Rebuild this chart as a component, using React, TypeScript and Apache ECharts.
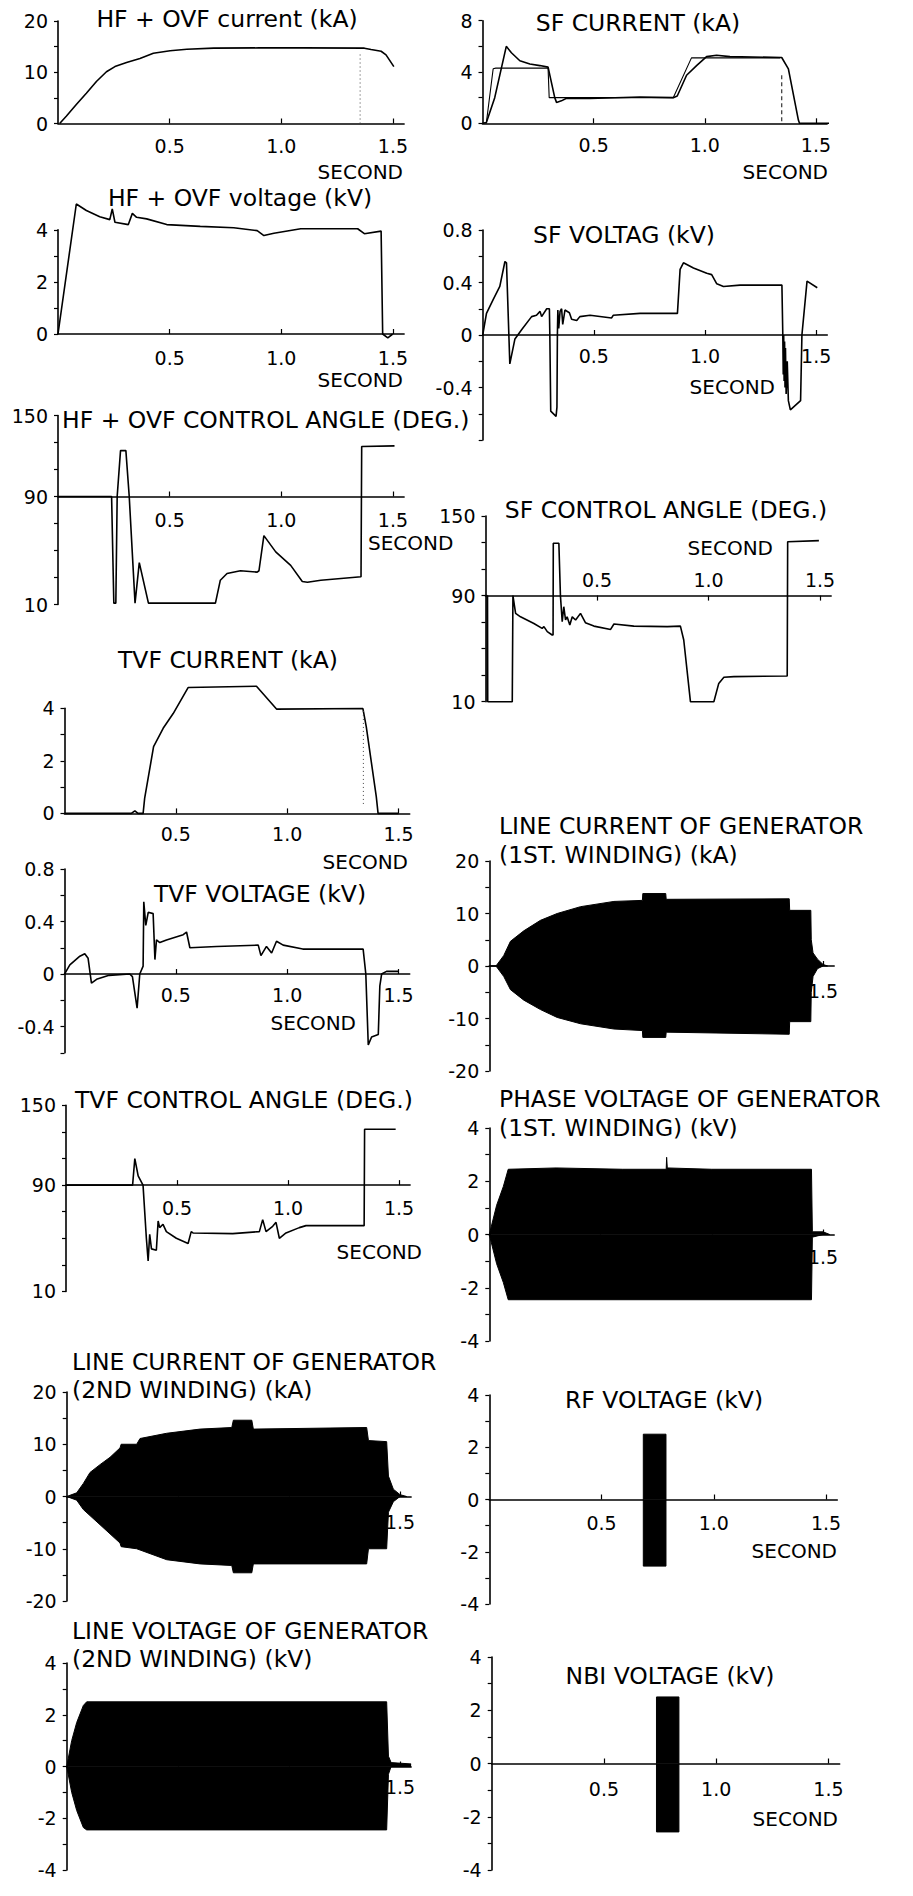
import React, { useEffect, useRef } from 'react';
import * as echarts from 'echarts';

const FONT = '"DejaVu Sans", "Liberation Sans", Arial, sans-serif';

// ---------- DATA (time in seconds, values in panel units) ----------
const HF_CUR = [[0.0075, 0], [0.037, 1.4], [0.082, 3.7], [0.127, 5.9], [0.172, 8.2], [0.217, 10.1], [0.255, 11.1], [0.307, 11.9], [0.367, 12.7], [0.427, 13.7], [0.502, 14.2], [0.577, 14.5], [0.697, 14.7], [0.9, 14.75], [1.1, 14.75], [1.372, 14.7], [1.402, 14.45], [1.447, 14.1], [1.469, 13.4], [1.504, 11.1]];
const HF_CUR_REF = [[1.353, 0], [1.353, 13.8]];

const HF_VOLT = [[0, 0], [0.082, 4.99], [0.127, 4.74], [0.187, 4.5], [0.232, 4.39], [0.243, 4.8], [0.255, 4.29], [0.315, 4.2], [0.333, 4.63], [0.352, 4.48], [0.397, 4.42], [0.487, 4.2], [0.637, 4.13], [0.787, 4.08], [0.892, 3.97], [0.922, 3.78], [0.967, 3.87], [1.087, 4.04], [1.342, 4.04], [1.372, 3.85], [1.447, 3.95], [1.454, 0], [1.477, -0.15], [1.499, 0]];

const HF_ANG = [[0, 90], [0.24, 90], [0.25, 11], [0.259, 11], [0.265, 90], [0.28, 124], [0.304, 124], [0.319, 90], [0.345, 11], [0.364, 41], [0.405, 11], [0.705, 11], [0.727, 28], [0.757, 33], [0.817, 35], [0.892, 34], [0.9, 35], [0.922, 61], [0.975, 49], [1.042, 39], [1.094, 27], [1.117, 26.5], [1.177, 28], [1.357, 30.5], [1.36, 127], [1.507, 127.5]];

const TVF_CUR = [[0, 0], [0.3, 0], [0.316, 0.1], [0.33, 0], [0.353, 0], [0.36, 0.58], [0.4, 2.54], [0.443, 3.24], [0.488, 3.8], [0.555, 4.79], [0.862, 4.84], [0.952, 3.97], [1.34, 3.99], [1.355, 3.3], [1.4, 0.64], [1.408, 0], [1.5, 0]];
const TVF_CUR_REF = [[1.342, 3.9], [1.342, 0.3]];

const TVF_VOLT = [[0, 0], [0.024, 0.07], [0.069, 0.136], [0.091, 0.154], [0.106, 0.12], [0.121, -0.07], [0.144, -0.04], [0.2, -0.01], [0.293, 0], [0.305, -0.02], [0.326, -0.26], [0.338, 0], [0.353, 0.06], [0.356, 0.55], [0.365, 0.37], [0.376, 0.47], [0.398, 0.46], [0.406, 0.11], [0.413, 0.26], [0.428, 0.24], [0.458, 0.26], [0.533, 0.3], [0.548, 0.32], [0.563, 0.2], [0.683, 0.21], [0.87, 0.22], [0.882, 0.14], [0.907, 0.21], [0.93, 0.16], [0.952, 0.25], [0.982, 0.22], [1.07, 0.19], [1.341, 0.19], [1.353, 0], [1.364, -0.54], [1.379, -0.48], [1.409, -0.46], [1.416, -0.09], [1.424, 0], [1.446, 0.02], [1.5, 0.02]];

const TVF_ANG = [[0, 90], [0.3, 90], [0.31, 110], [0.325, 97], [0.347, 90], [0.362, 50], [0.37, 33], [0.377, 53], [0.385, 42], [0.407, 41], [0.415, 63], [0.422, 58], [0.437, 60.5], [0.452, 55], [0.497, 50], [0.55, 46], [0.564, 55], [0.572, 54], [0.751, 53.5], [0.871, 55], [0.886, 64], [0.901, 55], [0.931, 59], [0.946, 62], [0.961, 50], [0.991, 54], [1.051, 58], [1.081, 59.5], [1.2, 59.5], [1.343, 59.5], [1.345, 132], [1.485, 132]];

const SF_CUR = [[0, 0], [0.017, 0.05], [0.055, 2], [0.107, 6.0], [0.13, 5.5], [0.168, 4.88], [0.213, 4.63], [0.258, 4.5], [0.295, 4.38], [0.325, 2], [0.333, 1.63], [0.355, 1.75], [0.378, 1.95], [0.483, 1.93], [0.708, 2.05], [0.858, 2.0], [0.876, 2.13], [0.918, 3.75], [0.963, 4.5], [1.008, 5.2], [1.053, 5.3], [1.113, 5.2], [1.346, 5.13], [1.376, 4.25], [1.421, 0.25], [1.426, 0], [1.56, 0]];
const SF_CUR_REF = [[0.017, 0], [0.048, 4.25], [0.06, 4.3], [0.295, 4.3], [0.3, 2.0], [0.33, 2.0], [0.858, 2.0], [0.94, 5.1], [1.339, 5.1]];
const SF_CUR_DROP = [[1.346, 3.75], [1.346, 0]];

const SF_VOLT = [[0, 0], [0.017, 0.165], [0.047, 0.27], [0.077, 0.37], [0.1, 0.56], [0.107, 0.55], [0.122, -0.22], [0.145, -0.03], [0.175, 0.04], [0.22, 0.14], [0.242, 0.15], [0.258, 0.18], [0.265, 0.14], [0.288, 0.2], [0.3, 0.2], [0.302, 0], [0.306, -0.58], [0.33, -0.62], [0.334, -0.55], [0.336, 0], [0.338, 0.19], [0.342, 0.05], [0.348, 0.18], [0.355, 0.2], [0.36, 0.08], [0.37, 0.19], [0.39, 0.17], [0.4, 0.12], [0.423, 0.11], [0.437, 0.14], [0.483, 0.15], [0.58, 0.13], [0.587, 0.15], [0.708, 0.165], [0.876, 0.165], [0.888, 0.5], [0.903, 0.55], [0.948, 0.51], [1.008, 0.47], [1.03, 0.46], [1.053, 0.39], [1.083, 0.37], [1.158, 0.38], [1.346, 0.38], [1.35, 0], [1.352, -0.3], [1.354, 0], [1.356, -0.35], [1.358, -0.05], [1.36, -0.4], [1.362, -0.1], [1.365, -0.45], [1.37, -0.2], [1.375, -0.5], [1.384, -0.57], [1.43, -0.5], [1.436, 0], [1.459, 0.41], [1.505, 0.36]];

const SF_ANG = [[0, 90], [0.007, 90], [0.008, 10], [0.009, 90], [0.01, 10], [0.12, 10], [0.123, 90], [0.135, 76.6], [0.157, 74], [0.217, 69], [0.254, 65.3], [0.262, 66.6], [0.277, 62.8], [0.299, 60.3], [0.303, 60.3], [0.304, 129.4], [0.329, 129.4], [0.336, 90], [0.344, 70.3], [0.351, 81.6], [0.359, 71.6], [0.366, 74], [0.378, 67.8], [0.389, 74], [0.404, 71.6], [0.426, 76.6], [0.448, 69.6], [0.486, 67], [0.561, 64.5], [0.576, 68.6], [0.665, 67], [0.815, 66.6], [0.874, 67], [0.889, 56.5], [0.919, 10], [1.024, 10], [1.046, 23.8], [1.069, 28.4], [1.114, 28.9], [1.353, 29.4], [1.355, 130.6], [1.495, 131.4]];

// oscillation envelopes (upper / lower peaks)
const LC1_UP = [[0, 0], [0.03, 0], [0.065, 2], [0.095, 4.7], [0.155, 6.7], [0.23, 8.7], [0.305, 10], [0.41, 11.3], [0.56, 12.3], [0.688, 12.5], [0.69, 13.8], [0.793, 13.8], [0.795, 12.7], [1.348, 12.8], [1.35, 10.6], [1.445, 10.6], [1.447, 5], [1.455, 2.5], [1.475, 1.3], [1.5, 0.3], [1.52, 0]];
const LC1_LO = [[0, 0], [0.03, 0], [0.065, -2], [0.095, -4.5], [0.155, -6.5], [0.23, -8.3], [0.305, -9.8], [0.41, -11], [0.56, -12], [0.688, -12.3], [0.69, -13.6], [0.793, -13.6], [0.795, -12.6], [1.348, -13], [1.35, -10.6], [1.445, -10.6], [1.447, -5], [1.455, -2], [1.475, -0.5], [1.5, 0], [1.52, 0]];

const PV1_UP = [[0, 0], [0.033, 1.1], [0.063, 1.8], [0.085, 2.45], [0.3, 2.5], [0.6, 2.45], [0.795, 2.45], [0.797, 2.9], [0.8, 2.5], [1.0, 2.45], [1.448, 2.45], [1.452, 0.1], [1.5, 0.1], [1.53, 0]];
const PV1_LO = [[0, 0], [0.033, -1.1], [0.063, -1.8], [0.085, -2.45], [1.448, -2.45], [1.452, -0.1], [1.5, 0], [1.53, 0]];

const LC2_UP = [[0, 0], [0.045, 0.7], [0.075, 2.5], [0.105, 4.6], [0.15, 6.1], [0.195, 7.5], [0.24, 9.3], [0.245, 10], [0.315, 10], [0.33, 11.1], [0.45, 12.1], [0.6, 12.9], [0.743, 13.2], [0.75, 14.6], [0.833, 14.6], [0.84, 12.9], [1.35, 13.2], [1.358, 10.7], [1.44, 10.5], [1.448, 3.9], [1.47, 1.4], [1.5, 0.35], [1.53, 0]];
const LC2_LO = [[0, 0], [0.045, -0.7], [0.075, -2.5], [0.15, -5.4], [0.24, -8.9], [0.245, -9.6], [0.315, -10], [0.45, -12.1], [0.6, -12.9], [0.743, -13.2], [0.75, -14.6], [0.833, -14.6], [0.84, -12.9], [1.35, -12.9], [1.358, -10], [1.44, -10], [1.448, -3], [1.47, -1], [1.5, 0], [1.53, 0]];

const LV2_UP = [[0, 0], [0.0225, 1.0], [0.045, 1.7], [0.075, 2.36], [0.09, 2.5], [1.44, 2.5], [1.448, 0.4], [1.46, 0.15], [1.55, 0.1]];
const LV2_LO = [[0, 0], [0.0225, -1.0], [0.045, -1.7], [0.075, -2.36], [0.09, -2.45], [1.44, -2.45], [1.448, -0.3], [1.46, 0], [1.55, 0]];

const RF_UP = [[0.686, 0], [0.686, 2.5], [0.787, 2.5], [0.787, 0]];
const RF_LO = [[0.686, 0], [0.686, -2.55], [0.787, -2.55], [0.787, 0]];
const NBI_UP = [[0.734, 0], [0.734, 2.5], [0.834, 2.5], [0.834, 0]];
const NBI_LO = [[0.734, 0], [0.734, -2.57], [0.834, -2.57], [0.834, 0]];

// tick label sets
const X_LABELS = [0.5, 1.0, 1.5];
const X_LABEL_END = [1.5];

type S = { data: number[][]; kind: 'line' | 'dotted' | 'dashed' | 'thin' | 'band' };
type Panel = {
  x0: number; sx: number; yTop: number; yBot: number;
  ymin: number; ymax: number; yint: number; ylabels: number[];
  xlabels: number[]; xm: number; xTop?: boolean; cross: number;
  series: S[];
};

const PANELS: Panel[] = [
  { x0: 58, sx: 223.3, yTop: 21, yBot: 123.5, ymin: 0, ymax: 20, yint: 5, ylabels: [0, 10, 20], xlabels: X_LABELS, xm: 13, cross: 0,
    series: [{ data: HF_CUR, kind: 'line' }, { data: HF_CUR_REF, kind: 'dotted' }] },
  { x0: 58, sx: 223.3, yTop: 229.8, yBot: 334, ymin: 0, ymax: 4, yint: 1, ylabels: [0, 2, 4], xlabels: X_LABELS, xm: 14, cross: 0,
    series: [{ data: HF_VOLT, kind: 'line' }] },
  { x0: 58, sx: 223.3, yTop: 415.5, yBot: 604.5, ymin: 10, ymax: 150, yint: 20, ylabels: [10, 90, 150], xlabels: X_LABELS, xm: 14, cross: 90,
    series: [{ data: HF_ANG, kind: 'line' }] },
  { x0: 64.5, sx: 222.7, yTop: 708.3, yBot: 813.4, ymin: 0, ymax: 4, yint: 1, ylabels: [0, 2, 4], xlabels: X_LABELS, xm: 11, cross: 0,
    series: [{ data: TVF_CUR, kind: 'line' }, { data: TVF_CUR_REF, kind: 'dotted' }] },
  { x0: 64.5, sx: 222.7, yTop: 869, yBot: 1052.8, ymin: -0.6, ymax: 0.8, yint: 0.2, ylabels: [-0.4, 0, 0.4, 0.8], xlabels: X_LABELS, xm: 11, cross: 0,
    series: [{ data: TVF_VOLT, kind: 'line' }] },
  { x0: 66, sx: 222, yTop: 1105.4, yBot: 1291.4, ymin: 10, ymax: 150, yint: 20, ylabels: [10, 90, 150], xlabels: X_LABELS, xm: 13, cross: 90,
    series: [{ data: TVF_ANG, kind: 'line' }] },
  { x0: 66.7, sx: 222.2, yTop: 1392, yBot: 1601, ymin: -20, ymax: 20, yint: 5, ylabels: [-20, -10, 0, 10, 20], xlabels: X_LABEL_END, xm: 16, cross: 0,
    series: [{ data: LC2_UP, kind: 'band' }, { data: LC2_LO, kind: 'band' }] },
  { x0: 66.7, sx: 222.2, yTop: 1663, yBot: 1870, ymin: -4, ymax: 4, yint: 1, ylabels: [-4, -2, 0, 2, 4], xlabels: X_LABEL_END, xm: 11, cross: 0,
    series: [{ data: LV2_UP, kind: 'band' }, { data: LV2_LO, kind: 'band' }] },
  { x0: 482.5, sx: 222.3, yTop: 20.7, yBot: 123.3, ymin: 0, ymax: 8, yint: 2, ylabels: [0, 4, 8], xlabels: X_LABELS, xm: 12, cross: 0,
    series: [{ data: SF_CUR_REF, kind: 'thin' }, { data: SF_CUR, kind: 'line' }, { data: SF_CUR_DROP, kind: 'dashed' }] },
  { x0: 482.7, sx: 222.3, yTop: 230, yBot: 440, ymin: -0.8, ymax: 0.8, yint: 0.2, ylabels: [-0.4, 0, 0.4, 0.8], xlabels: X_LABELS, xm: 11, cross: 0,
    series: [{ data: SF_VOLT, kind: 'line' }] },
  { x0: 485.5, sx: 223, yTop: 516, yBot: 701.7, ymin: 10, ymax: 150, yint: 20, ylabels: [10, 90, 150], xlabels: X_LABELS, xm: 6, cross: 90, xTop: true,
    series: [{ data: SF_ANG, kind: 'line' }] },
  { x0: 489.3, sx: 222.5, yTop: 861, yBot: 1071, ymin: -20, ymax: 20, yint: 5, ylabels: [-20, -10, 0, 10, 20], xlabels: X_LABEL_END, xm: 15, cross: 0,
    series: [{ data: LC1_UP, kind: 'band' }, { data: LC1_LO, kind: 'band' }] },
  { x0: 489.3, sx: 222.5, yTop: 1128, yBot: 1341, ymin: -4, ymax: 4, yint: 1, ylabels: [-4, -2, 0, 2, 4], xlabels: X_LABEL_END, xm: 13, cross: 0,
    series: [{ data: PV1_UP, kind: 'band' }, { data: PV1_LO, kind: 'band' }] },
  { x0: 489.3, sx: 224.5, yTop: 1395, yBot: 1604, ymin: -4, ymax: 4, yint: 1, ylabels: [-4, -2, 0, 2, 4], xlabels: X_LABELS, xm: 14, cross: 0,
    series: [{ data: RF_UP, kind: 'band' }, { data: RF_LO, kind: 'band' }] },
  { x0: 491.7, sx: 224.5, yTop: 1657, yBot: 1870, ymin: -4, ymax: 4, yint: 1, ylabels: [-4, -2, 0, 2, 4], xlabels: X_LABELS, xm: 16, cross: 0,
    series: [{ data: NBI_UP, kind: 'band' }, { data: NBI_LO, kind: 'band' }] },
];

// text: [text, x, y, align]
const TITLES: [string, number, number, string][] = [
  ['HF + OVF current (kA)', 227, 19, 'center'],
  ['HF + OVF voltage (kV)', 240, 198, 'center'],
  ['HF + OVF CONTROL ANGLE (DEG.)', 62, 420, 'left'],
  ['TVF CURRENT (kA)', 228, 660, 'center'],
  ['TVF VOLTAGE (kV)', 260, 894, 'center'],
  ['TVF CONTROL ANGLE (DEG.)', 75, 1100, 'left'],
  ['LINE CURRENT OF GENERATOR', 72, 1362, 'left'],
  ['(2ND WINDING) (kA)', 72, 1390, 'left'],
  ['LINE VOLTAGE OF GENERATOR', 72, 1631, 'left'],
  ['(2ND WINDING) (kV)', 72, 1659, 'left'],
  ['SF CURRENT (kA)', 638, 23, 'center'],
  ['SF VOLTAG (kV)', 624, 235, 'center'],
  ['SF CONTROL ANGLE (DEG.)', 666, 510, 'center'],
  ['LINE CURRENT OF GENERATOR', 499, 826, 'left'],
  ['(1ST. WINDING) (kA)', 499, 855, 'left'],
  ['PHASE VOLTAGE OF GENERATOR', 499, 1099, 'left'],
  ['(1ST. WINDING) (kV)', 499, 1128, 'left'],
  ['RF VOLTAGE (kV)', 664, 1400, 'center'],
  ['NBI VOLTAGE (kV)', 670, 1676, 'center'],
];
const SECONDS: [number, number, string][] = [
  [403, 172, 'right'], [403, 380, 'right'], [368, 543, 'left'], [408, 862, 'right'], [356, 1023, 'right'], [422, 1252, 'right'],
  [828, 172, 'right'], [775, 387, 'right'], [773, 548, 'right'], [837, 1551, 'right'], [838, 1819, 'right'],
];

const fmt = (v: number) => String(Math.round(v * 10) / 10);
const has = (arr: number[], v: number) => arr.some((a) => Math.abs(a - v) < 1e-6);

function buildOption() {
  const grid: any[] = [];
  const xAxis: any[] = [];
  const yAxis: any[] = [];
  const series: any[] = [];
  const axisLine = { lineStyle: { color: '#000', width: 1.6 } };
  PANELS.forEach((p, i) => {
    const h = p.yBot - p.yTop;
    grid.push({ left: p.x0, top: p.yTop, width: 1.55 * p.sx, height: h, containLabel: false });
    yAxis.push({
      type: 'value', gridIndex: i, min: p.ymin, max: p.ymax, interval: p.yint, position: 'left',
      axisLine: { show: true, onZero: false, ...axisLine },
      axisTick: { show: true, inside: false, length: 4, lineStyle: { color: '#000', width: 1.2 } },
      splitLine: { show: false },
      axisLabel: {
        color: '#000', fontSize: 19, fontFamily: FONT, margin: 10,
        formatter: (v: number) => (has(p.ylabels, v) ? fmt(v) : ''),
      },
    });
    // the time axis crosses the value axis at p.cross (0 kA/kV, or 90 degrees)
    const crossFromTop = ((p.ymax - p.cross) / (p.ymax - p.ymin)) * h;
    const offset = p.xTop ? -crossFromTop : -(h - crossFromTop);
    xAxis.push({
      type: 'value', gridIndex: i, min: 0, max: 1.55, interval: 0.5, position: p.xTop ? 'top' : 'bottom', offset,
      axisLine: { show: true, onZero: false, ...axisLine },
      axisTick: { show: true, inside: true, length: 5, lineStyle: { color: '#000', width: 1.2 } },
      splitLine: { show: false },
      axisLabel: {
        color: '#000', fontSize: 19, fontFamily: FONT, margin: p.xm, showMinLabel: false, showMaxLabel: false,
        formatter: (v: number) => (has(p.xlabels, v) ? v.toFixed(1) : ''),
      },
    });
    p.series.forEach((s) => {
      const base: any = {
        type: 'line', xAxisIndex: i, yAxisIndex: i, data: s.data, showSymbol: false, symbol: 'none',
        clip: false, silent: true, animation: false,
      };
      if (s.kind === 'line') base.lineStyle = { color: '#000', width: 1.6 };
      if (s.kind === 'thin') base.lineStyle = { color: '#000', width: 1.1 };
      if (s.kind === 'dotted') base.lineStyle = { color: '#444', width: 1, type: [1, 3] };
      if (s.kind === 'dashed') base.lineStyle = { color: '#333', width: 1.2, type: [4, 3] };
      if (s.kind === 'band') {
        base.lineStyle = { color: '#000', width: 1 };
        base.areaStyle = { color: '#000', opacity: 1 };
      }
      series.push(base);
    });
  });
  const graphic: any[] = [];
  TITLES.forEach(([t, x, y, a]) => {
    graphic.push({
      type: 'text', x, y, silent: true,
      style: { text: t, font: `23.5px ${FONT}`, fill: '#000', align: a, textAlign: a, verticalAlign: 'middle', textVerticalAlign: 'middle' },
    });
  });
  SECONDS.forEach(([x, y, a]) => {
    graphic.push({
      type: 'text', x, y, silent: true,
      style: { text: 'SECOND', font: `20px ${FONT}`, fill: '#000', align: a, textAlign: a, verticalAlign: 'middle', textVerticalAlign: 'middle' },
    });
  });
  return { animation: false, backgroundColor: '#fff', grid, xAxis, yAxis, series, graphic };
}

export default function App() {
  const ref = useRef<HTMLDivElement>(null);
  useEffect(() => {
    if (!ref.current) return;
    const chart = echarts.init(ref.current, undefined, { renderer: 'svg' });
    chart.setOption(buildOption() as any);
    return () => chart.dispose();
  }, []);
  return <div ref={ref} style={{ position: 'absolute', left: 0, top: 0, width: 913, height: 1896, background: '#fff' }} />;
}
